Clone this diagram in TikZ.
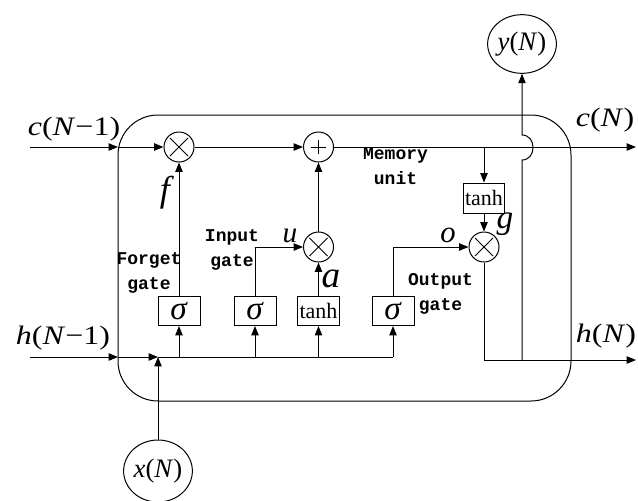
\documentclass[tikz,border=0pt]{standalone}
\usepackage{fontspec}
\setmainfont{Liberation Serif}
\newfontfamily\gatefont{Liberation Mono}
\usetikzlibrary{arrows.meta,shapes.geometric}
\newcommand{\sig}{\fontsize{25}{25}\selectfont\textit{σ}}
\begin{document}
\begin{tikzpicture}[x=0.75pt,y=-0.75pt,line width=0.75pt,
  arr/.style={-{Triangle[length=7pt,width=5.5pt]}},
  opnode/.style={circle,draw,minimum size=22.5pt,inner sep=0pt},
  mult/.style={opnode,path picture={
     \draw ([shift={(-6.8pt,-6.8pt)}]path picture bounding box.center) -- ([shift={(6.8pt,6.8pt)}]path picture bounding box.center);
     \draw ([shift={(-6.8pt,6.8pt)}]path picture bounding box.center) -- ([shift={(6.8pt,-6.8pt)}]path picture bounding box.center);}},
  plusn/.style={opnode,path picture={
     \draw ([shift={(-5.5pt,0pt)}]path picture bounding box.center) -- ([shift={(5.5pt,0pt)}]path picture bounding box.center);
     \draw ([shift={(0pt,-5.5pt)}]path picture bounding box.center) -- ([shift={(0pt,5.5pt)}]path picture bounding box.center);}},
  gatebox/.style={draw,minimum width=31.5pt,minimum height=21.75pt,inner sep=0pt},
  iolab/.style={inner sep=0pt,xscale=1.2,font=\fontsize{20}{20}\selectfont},
  inlab/.style={ellipse,draw,inner sep=0pt,font=\fontsize{20}{20}\selectfont},
  varlab/.style={inner sep=0pt},
  gatetxt/.style={inner sep=0pt,align=center,font=\gatefont\bfseries\fontsize{13.5}{18.75}\selectfont},
]
\useasboundingbox (0,0) rectangle (638,500);
% cell outline
\node[draw,rounded corners=30pt,minimum width=339.75pt,minimum height=214.5pt,inner sep=0pt] (cell) at (344.5,258) {};
% operators
\node[mult] (fx) at (179,147) {};
\node[plusn] (pl) at (318.5,147) {};
\node[mult] (ux) at (318.5,247) {};
\node[mult] (ox) at (484,247) {};
% gate boxes
\node[gatebox] (sf) at (179,311) {\sig};
\node[gatebox] (si) at (255,311) {\sig};
\node[gatebox] (ta) at (318.5,311) {\fontsize{16.5}{16.5}\selectfont tanh};
\node[gatebox] (so) at (393,311) {\sig};
\node[gatebox,minimum width=30.75pt,minimum height=22.5pt] (tg) at (484,198) {\fontsize{16.5}{16.5}\selectfont tanh};
% in/out circles
\node[inlab,minimum width=46.5pt,minimum height=44pt] (yN) at (522,44) {\textit{y}(\textit{N})};
\node[inlab,minimum width=48pt,minimum height=46.5pt] (xN) at (158,471) {\textit{x}(\textit{N})};
% coordinates
\coordinate (cin) at (30,147);
\coordinate (cl) at (118,147);
\coordinate (cb) at (484,147);
\coordinate (cout) at (636,147);
\coordinate (hin) at (30,357);
\coordinate (hl) at (118,357);
\coordinate (hj) at (158,357);
\coordinate (hout) at (636,360);
\coordinate (yj) at (522,360);
\coordinate (hopa) at (522,160);
\coordinate (hopb) at (522,135);
% cell state line
\draw[arr] (cin) -- (cl);
\draw[arr] (cl) -- (fx);
\draw[arr] (fx) -- (pl);
\draw[arr] (pl) -- (cout);
\draw[arr] (cb) -- (tg);
\draw[arr] (tg) -- (ox);
% gates
\draw[arr] (sf) -- (fx);
\draw[arr] (si) |- (ux);
\draw[arr] (ta) -- (ux);
\draw[arr] (ux) -- (pl);
\draw[arr] (so) |- (ox);
\draw[arr] (ox) |- (hout);
\draw[arr] (yj) -- (hopa) .. controls (536.7,160) and (536.7,135) .. (hopb) -- (yN);
% input bus
\draw[arr] (hin) -- (hl);
\draw[arr] (hl) -- (hj);
\draw[arr] (xN) -- (hj);
\draw (hj) -- (so.south |- hj);
\draw[arr] (sf.south |- hj) -- (sf);
\draw[arr] (si.south |- hj) -- (si);
\draw[arr] (ta.south |- hj) -- (ta);
\draw[arr] (so.south |- hj) -- (so);
% labels
\node[iolab] (lcin) at (74,129) {\textit{c}(\textit{N}−1)};
\node[iolab] (lhin) at (63,338) {\textit{h}(\textit{N}−1)};
\node[iolab] (lcout) at (605,120) {\textit{c}(\textit{N})};
\node[iolab] (lhout) at (606,336) {\textit{h}(\textit{N})};
\node[varlab,font=\fontsize{27}{27}\selectfont] (lf) at (167,193) {\textit{f}};
\node[varlab,font=\fontsize{22}{22}\selectfont] (lu) at (290,236) {\textit{u}};
\node[varlab,font=\fontsize{28}{28}\selectfont] (la) at (331,279) {\textit{a}};
\node[varlab,font=\fontsize{23}{23}\selectfont] (lo) at (448,235) {\textit{o}};
\node[varlab,font=\fontsize{25}{25}\selectfont] (lg) at (505,224) {\textit{g}};
\node[gatetxt] (tforget) at (149,272.5) {Forget\\gate};
\node[gatetxt] (tinput) at (232,249.5) {Input\\gate};
\node[gatetxt] (tmem) at (395.5,166.5) {Memory\\unit};
\node[gatetxt] (toutput) at (440.5,294) {Output\\gate};
\end{tikzpicture}
\end{document}
